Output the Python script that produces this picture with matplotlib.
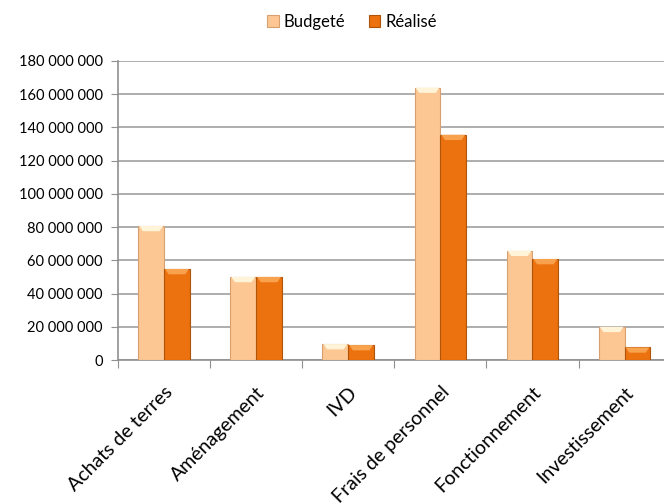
import matplotlib
matplotlib.use("Agg")
import matplotlib.pyplot as plt
import numpy as np
from matplotlib.patches import Polygon
from matplotlib.ticker import FuncFormatter
from matplotlib.transforms import ScaledTranslation

plt.rcParams['font.family'] = ['Lato', 'DejaVu Sans']

categories = ["Achats de terres", "Aménagement", "IVD", "Frais de personnel",
              "Fonctionnement", "Investissement"]
budgete = [80.7e6, 50.0e6, 9.6e6, 164.0e6, 65.8e6, 20.0e6]
realise = [54.8e6, 50.0e6, 9.0e6, 135.6e6, 60.8e6, 7.6e6]
series_names = ["Budgeté", "Réalisé"]

c_budget = "#FCC792"
c_budget_edge = "#D8A070"
c_budget_hi = "#FFF3D8"
c_real = "#EC710F"
c_real_edge = "#B0540A"
c_real_hi = "#F8A24E"

fig = plt.figure(figsize=(6.64, 5.03), dpi=100)
# axes run a little past the right edge of the figure
ax = fig.add_axes([118 / 664, 143 / 503, 552.6 / 664, 299 / 503])

x = np.arange(len(categories))
w = 0.28

def draw_bars(xpos, vals, face, edge, hi):
    bars = ax.bar(xpos, vals, w, color=face, edgecolor=edge, linewidth=0.8, zorder=3)
    # bevel highlight on top of each bar
    for b in bars:
        x0 = b.get_x()
        x1 = x0 + b.get_width()
        top = b.get_height()
        d = b.get_width() * 0.18
        h = 3.2e6
        poly = Polygon([(x0 + 0.01, top), (x1 - 0.01, top), (x1 - d, top - h), (x0 + d, top - h)],
                       closed=True, facecolor=hi, edgecolor='none', zorder=4)
        ax.add_patch(poly)
    return bars

b1 = draw_bars(x - w / 2, budgete, c_budget, c_budget_edge, c_budget_hi)
b2 = draw_bars(x + w / 2, realise, c_real, c_real_edge, c_real_hi)

ax.set_xlim(-0.5, len(categories) - 0.5)
ax.set_ylim(0, 180e6)
ax.set_yticks(np.arange(0, 180e6 + 1, 20e6))
ax.yaxis.set_major_formatter(FuncFormatter(lambda v, p: f"{int(v):,}".replace(",", " ")))
ax.grid(axis='y', color="#A0A0A0", linewidth=1.2, zorder=0)
ax.set_axisbelow(True)

ax.set_xticks(np.arange(len(categories) + 1) - 0.5, minor=False)
ax.set_xticklabels([])
ax.set_xticks(x, minor=True)
ax.set_xticklabels(categories, minor=True, rotation=45, ha='right',
                   rotation_mode='anchor', fontsize=14)
shift = ScaledTranslation(6 / 100, 0, fig.dpi_scale_trans)
for lab in ax.get_xticklabels(minor=True):
    lab.set_transform(lab.get_transform() + shift)
ax.tick_params(axis='x', which='minor', length=0, pad=17)
ax.tick_params(axis='x', which='major', length=6, color="#909090")
ax.tick_params(axis='y', length=5, color="#909090", labelsize=10.5, pad=6)

for s in ['top', 'right']:
    ax.spines[s].set_visible(False)
ax.spines['left'].set_color("#909090")
ax.spines['bottom'].set_color("#909090")
ax.spines['left'].set_linewidth(1.2)
ax.spines['bottom'].set_linewidth(1.2)

fig.legend([b1, b2], series_names, loc='center', bbox_to_anchor=(352 / 664, 1 - 22 / 503),
           ncol=2, frameon=False, fontsize=12, handlelength=0.7, handleheight=0.7,
           handletextpad=0.3, columnspacing=1.4)

fig.savefig("out.png", dpi=100)
